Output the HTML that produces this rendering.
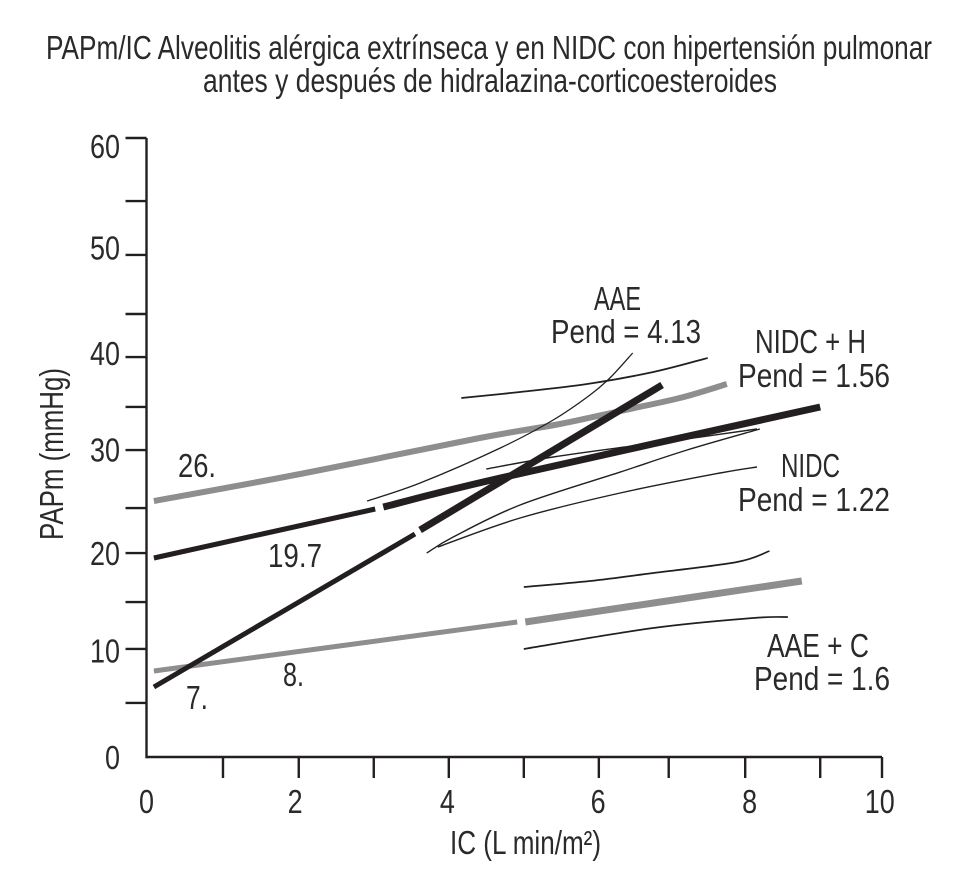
<!DOCTYPE html>
<html lang="es">
<head>
<meta charset="utf-8">
<title>PAPm/IC</title>
<style>
html,body{margin:0;padding:0;background:#fff;}
svg{display:block;}
text{font-family:"Liberation Sans",sans-serif;font-size:33px;fill:#2a2a2a;}
</style>
</head>
<body>
<svg id="chart" width="966" height="879" viewBox="0 0 966 879" xmlns="http://www.w3.org/2000/svg">
  <g>
    <text x="46" y="59" textLength="886" lengthAdjust="spacingAndGlyphs">PAPm/IC Alveolitis alérgica extrínseca y en NIDC con hipertensión pulmonar</text>
    <text x="203" y="92" textLength="574" lengthAdjust="spacingAndGlyphs">antes y después de hidralazina-corticoesteroides</text>
  </g>
  <g id="marks"></g>
  <g id="axes"></g>
  <g>
    <text x="594" y="310" textLength="47" lengthAdjust="spacingAndGlyphs">AAE</text>
    <text x="551" y="343" textLength="150" lengthAdjust="spacingAndGlyphs">Pend = 4.13</text>
    <text x="755" y="353" textLength="111" lengthAdjust="spacingAndGlyphs">NIDC + H</text>
    <text x="738" y="387" textLength="152" lengthAdjust="spacingAndGlyphs">Pend = 1.56</text>
    <text x="781" y="477" textLength="59" lengthAdjust="spacingAndGlyphs">NIDC</text>
    <text x="738" y="511" textLength="152" lengthAdjust="spacingAndGlyphs">Pend = 1.22</text>
    <text x="767" y="657" textLength="102" lengthAdjust="spacingAndGlyphs">AAE + C</text>
    <text x="754" y="690" textLength="136" lengthAdjust="spacingAndGlyphs">Pend = 1.6</text>
    <text x="178" y="477" textLength="38" lengthAdjust="spacingAndGlyphs">26.</text>
    <text x="268" y="567" textLength="54" lengthAdjust="spacingAndGlyphs">19.7</text>
    <text x="283" y="686" textLength="21" lengthAdjust="spacingAndGlyphs">8.</text>
    <text x="186" y="709" textLength="22" lengthAdjust="spacingAndGlyphs">7.</text>
  </g>
  <text transform="translate(63,540) rotate(-90)" x="0" y="0" textLength="172" lengthAdjust="spacingAndGlyphs">PAPm (mmHg)</text>
  <text x="450" y="854" textLength="151" lengthAdjust="spacingAndGlyphs">IC (L min/m²)</text>
</svg>
<script>
/* tick marks on the printed axes (hand-set, irregular in the source figure) */
var xTicks = [0, 1.04, 2.07, 3.09, 4.11, 5.13, 6.15, 7.10, 8.14, 9.16, 10];
var yTicks = [60.39, 54.24, 48.98, 43.22, 39.02, 34.15, 29.95, 24.29, 19.9, 15.12, 10.54, 5.27];
var xLabels = ['0', '2', '4', '6', '8', '10'];
var xLabelAt = [0, 2.02, 4.09, 6.14, 8.2, 9.97];
var yLabels = ['60', '50', '40', '30', '20', '10', '0'];
var yLabelAt = [59.6, 49.7, 39.4, 30, 19.9, 10.4, 0];

/* thick regression lines */
var nidcHGrayX = [0.10, 2.09, 4.53, 5.62, 6.44, 7.25, 7.89];
var nidcHGrayY = [24.98, 27.61, 31.12, 32.49, 33.76, 35.02, 36.39];
var meanBlackAX = [0.10, 3.11];
var meanBlackAY = [19.41, 24.20];
var meanBlackBX = [3.22, 4.81, 9.16];
var meanBlackBY = [24.39, 27.22, 34.15];
var aaeBlackAX = [0.10, 3.65];
var aaeBlackAY = [6.83, 21.76];
var aaeBlackBX = [3.72, 7.01];
var aaeBlackBY = [22.15, 36.29];
var aaeCGrayAX = [0.10, 5.04];
var aaeCGrayAY = [8.39, 13.17];
var aaeCGrayBX = [5.15, 8.91];
var aaeCGrayBY = [13.17, 17.17];

/* thin confidence curves */
var aaeUpperX = [3.0, 3.72, 4.81, 5.53, 6.03, 6.30, 6.61];
var aaeUpperY = [24.98, 26.73, 30.15, 32.88, 35.32, 36.98, 39.41];
var nidcHUpperX = [4.28, 5.08, 5.99, 6.89, 7.63];
var nidcHUpperY = [35.02, 35.61, 36.39, 37.56, 38.93];
var nidcHLowerX = [4.62, 5.53, 6.61, 7.53, 8.30];
var nidcHLowerY = [28.10, 29.27, 30.34, 31.22, 32.0];
var nidcUpperX = [3.81, 4.17, 5.08, 6.44, 7.35, 8.34];
var nidcUpperY = [19.90, 21.46, 24.59, 27.80, 29.95, 32.0];
var nidcLowerX = [3.96, 5.08, 6.44, 7.80, 8.30];
var nidcLowerY = [20.49, 23.32, 25.76, 27.71, 28.29];
var aaeCUpperX = [5.13, 6.03, 6.89, 8.03, 8.47];
var aaeCUpperY = [16.59, 17.17, 17.95, 19.02, 20.10];
var aaeCLowerX = [5.13, 6.89, 8.25, 8.72];
var aaeCLowerY = [10.54, 12.59, 13.56, 13.66];

var NS = 'http://www.w3.org/2000/svg';
var INK = '#231f20';
var GRAY = '#8e8e8e';
function sx(v) { return 146.5 + v * 73.55; }
function sy(v) { return 757 - v * 10.25; }

var marks = document.getElementById('marks');
var axes = document.getElementById('axes');

/* Catmull-Rom smoothing so the curves read as curves, not polylines */
function smoothPath(xs, ys) {
  var p = [];
  for (var i = 0; i < xs.length; i++) {
    p.push([sx(xs[i]), sy(ys[i])]);
  }
  var d = 'M' + p[0][0].toFixed(1) + ' ' + p[0][1].toFixed(1);
  for (var s = 0; s < p.length - 1; s++) {
    var a = p[Math.max(s - 1, 0)];
    var b = p[s];
    var c = p[s + 1];
    var e = p[Math.min(s + 2, p.length - 1)];
    d += ' C' + (b[0] + (c[0] - a[0]) / 6).toFixed(1) + ' ' + (b[1] + (c[1] - a[1]) / 6).toFixed(1) +
         ' ' + (c[0] - (e[0] - b[0]) / 6).toFixed(1) + ' ' + (c[1] - (e[1] - b[1]) / 6).toFixed(1) +
         ' ' + c[0].toFixed(1) + ' ' + c[1].toFixed(1);
  }
  return d;
}

function drawLine(name, xs, ys, color, width) {
  var el = document.createElementNS(NS, 'path');
  
  
  el.setAttribute('d', smoothPath(xs, ys));
  el.setAttribute('fill', 'none');
  el.setAttribute('stroke', color);
  el.setAttribute('stroke-width', width);
  el.setAttribute('stroke-linejoin', 'round');
  marks.appendChild(el);
}

function drawRule(name, x1, y1, x2, y2) {
  var el = document.createElementNS(NS, 'line');
  
  
  el.setAttribute('x1', x1);
  el.setAttribute('y1', y1);
  el.setAttribute('x2', x2);
  el.setAttribute('y2', y2);
  el.setAttribute('stroke', INK);
  el.setAttribute('stroke-width', 2.4);
  axes.appendChild(el);
}

function drawLabel(name, text, x, y, anchor, length) {
  var el = document.createElementNS(NS, 'text');
  
  
  el.setAttribute('x', x);
  el.setAttribute('y', y);
  el.setAttribute('text-anchor', anchor);
  el.setAttribute('textLength', length);
  el.setAttribute('lengthAdjust', 'spacingAndGlyphs');
  el.textContent = text;
  axes.appendChild(el);
}

drawLine('nidc-h-mean-line', nidcHGrayX, nidcHGrayY, GRAY, 6);
drawLine('aae-c-mean-line-start', aaeCGrayAX, aaeCGrayAY, GRAY, 5);
drawLine('aae-c-mean-line-end', aaeCGrayBX, aaeCGrayBY, GRAY, 7);
drawLine('aae-upper-curve', aaeUpperX, aaeUpperY, INK, 1.3);
drawLine('nidc-h-upper-curve', nidcHUpperX, nidcHUpperY, INK, 1.8);
drawLine('nidc-h-lower-curve', nidcHLowerX, nidcHLowerY, INK, 1.4);
drawLine('nidc-upper-curve', nidcUpperX, nidcUpperY, INK, 1.4);
drawLine('nidc-lower-curve', nidcLowerX, nidcLowerY, INK, 1.4);
drawLine('aae-c-upper-curve', aaeCUpperX, aaeCUpperY, INK, 1.7);
drawLine('aae-c-lower-curve', aaeCLowerX, aaeCLowerY, INK, 1.7);
drawLine('nidc-mean-line-start', meanBlackAX, meanBlackAY, INK, 5);
drawLine('nidc-mean-line-end', meanBlackBX, meanBlackBY, INK, 7);
drawLine('aae-mean-line-start', aaeBlackAX, aaeBlackAY, INK, 5);
drawLine('aae-mean-line-end', aaeBlackBX, aaeBlackBY, INK, 7);

drawRule('y-axis-line', sx(0), sy(yTicks[0]), sx(0), sy(0) + 1.2);
drawRule('x-axis-line', sx(0), sy(0), sx(10), sy(0));

for (var i = 0; i < xTicks.length; i++) {
  if (xTicks[i] === 0) continue;
  drawRule('x-axis-tick', sx(xTicks[i]), sy(0), sx(xTicks[i]), sy(0) + 21);
}
for (var j = 0; j < yTicks.length; j++) {
  drawRule('y-axis-tick', sx(0), sy(yTicks[j]), sx(0) - 21, sy(yTicks[j]));
}
for (var k = 0; k < xLabels.length; k++) {
  drawLabel('x-tick-label', xLabels[k], sx(xLabelAt[k]), sy(0) + 56, 'middle', xLabels[k].length * 15);
}
for (var m = 0; m < yLabels.length; m++) {
  drawLabel('y-tick-label', yLabels[m], 120, sy(yLabelAt[m]) + 12, 'end', yLabels[m].length * 15);
}
</script>
</body>
</html>
